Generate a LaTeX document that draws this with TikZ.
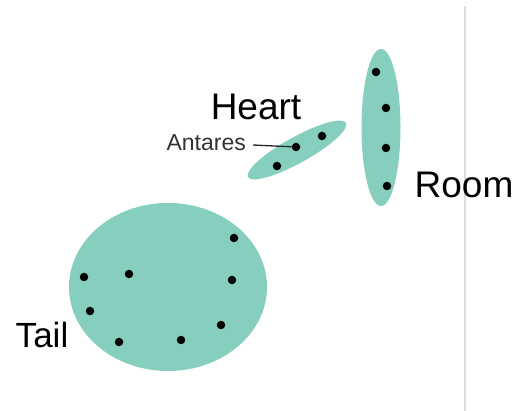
\documentclass[tikz,border=0pt]{standalone}
\usepackage{fontspec}
\setmainfont{Liberation Sans}
\usetikzlibrary{shapes.geometric}
\definecolor{cluster}{RGB}{134,206,190}

\begin{document}
\begin{tikzpicture}[
x=1pt,y=-1pt,
clus/.style={ellipse,fill=cluster,draw=none,inner sep=0pt},
dot/.style={circle,fill=black,inner sep=0pt,minimum size=8.5pt},
lbl/.style={font=\fontsize{35}{35}\selectfont,inner sep=0pt},
small/.style={font=\fontsize{23}{23}\selectfont,inner sep=0pt,text=black!80}
]
\useasboundingbox (0,0) rectangle (514,411);
\draw[black!13,line width=1.2pt] (465,6) -- (465,411);
% clusters
\node[clus,minimum width=198pt,minimum height=168pt] (tail) at (168,287) {};
\node[clus,minimum width=39pt,minimum height=157pt] (room) at (381,127.5) {};
\node[clus,minimum width=112pt,minimum height=26pt,rotate=29] (heart) at (297,150) {};
% stars of the tail
\node[dot] (t1) at (234,238) {};
\node[dot] (t2) at (84,277) {};
\node[dot] (t3) at (129,274) {};
\node[dot] (t4) at (232,280) {};
\node[dot] (t5) at (90,311) {};
\node[dot] (t6) at (221,325) {};
\node[dot] (t7) at (119,342) {};
\node[dot] (t8) at (181,340) {};
% stars of the room
\node[dot] (r1) at (376,72) {};
\node[dot] (r2) at (386,108) {};
\node[dot] (r3) at (386,148) {};
\node[dot] (r4) at (387,186) {};
% stars of the heart
\node[dot] (h1) at (277,166) {};
\node[dot] (h2) at (296,147) {};
\node[dot] (h3) at (322,136) {};
% labels
\node[lbl] (ltail) at (42,335) {Tail};
\node[lbl,font=\fontsize{37}{37}\selectfont] (lroom) at (464,185) {Room};
\node[lbl,font=\fontsize{37}{37}\selectfont] (lheart) at (256,107) {Heart};
\node[small,anchor=east] (antares) at (246,143) {Antares};
\draw[black!85,line width=1.3pt] (antares.east) ++(7,2) coordinate (lead) -- (h2);
\end{tikzpicture}
\end{document}
